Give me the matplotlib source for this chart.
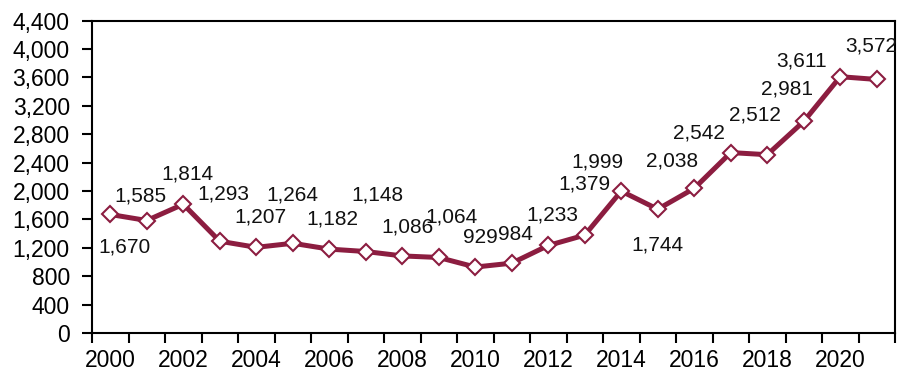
import matplotlib.pyplot as plt

plt.rcParams['font.family'] = ['Liberation Sans', 'DejaVu Sans']

years = list(range(2000, 2022))
values = [1670, 1585, 1814, 1293, 1207, 1264, 1182, 1148, 1086, 1064, 929,
          984, 1233, 1379, 1999, 1744, 2038, 2542, 2512, 2981, 3611, 3572]

# label offsets in pixels (dx, dy), dy positive = up
label_offsets = [(14, -33), (-6, 25), (4, 30), (4, 47), (4, 30), (0, 48),
                 (3, 30), (12, 57), (5, 29), (13, 40), (5, 30), (4, 29),
                 (4, 30), (0, 51), (-24, 29), (0, -36), (-22, 27), (-32, 20),
                 (-12, 40), (-17, 32), (-39, 16), (-6, 33)]

color = '#8C1D40'

fig = plt.figure(figsize=(8.98, 3.73), dpi=100)
ax = fig.add_axes([92 / 898, 40 / 373, 803 / 898, 312.3 / 373])

x = list(range(len(years)))
ax.plot(x, values, color=color, lw=3.6, marker='D', markersize=8.5,
        markerfacecolor='white', markeredgecolor=color, markeredgewidth=1.5,
        zorder=3)

for i, v in enumerate(values):
    dx, dy = label_offsets[i]
    ax.annotate(f'{v:,}', (i, v), xytext=(dx, dy), textcoords='offset pixels',
                ha='center', va='center', fontsize=15, color='#111111')

ax.set_xlim(-0.5, len(years) - 0.5)
ax.set_ylim(0, 4400)
ax.set_yticks(range(0, 4401, 400))
ax.set_yticklabels([f'{t:,}' for t in range(0, 4401, 400)])
ax.set_xticks([i for i in x if years[i] % 2 == 0])
ax.set_xticklabels([str(y) for y in years if y % 2 == 0])
ax.set_xticks([i - 0.5 for i in range(len(years) + 1)], minor=True)
ax.tick_params(axis='x', which='major', length=0, pad=11.5, labelsize=16.5)
ax.tick_params(axis='x', which='minor', length=7, width=1.5, direction='out')
ax.tick_params(axis='y', length=7, width=1.5, direction='out', pad=9,
               labelsize=16.5)
for s in ax.spines.values():
    s.set_linewidth(1.5)

fig.savefig('out.png', dpi=100)
